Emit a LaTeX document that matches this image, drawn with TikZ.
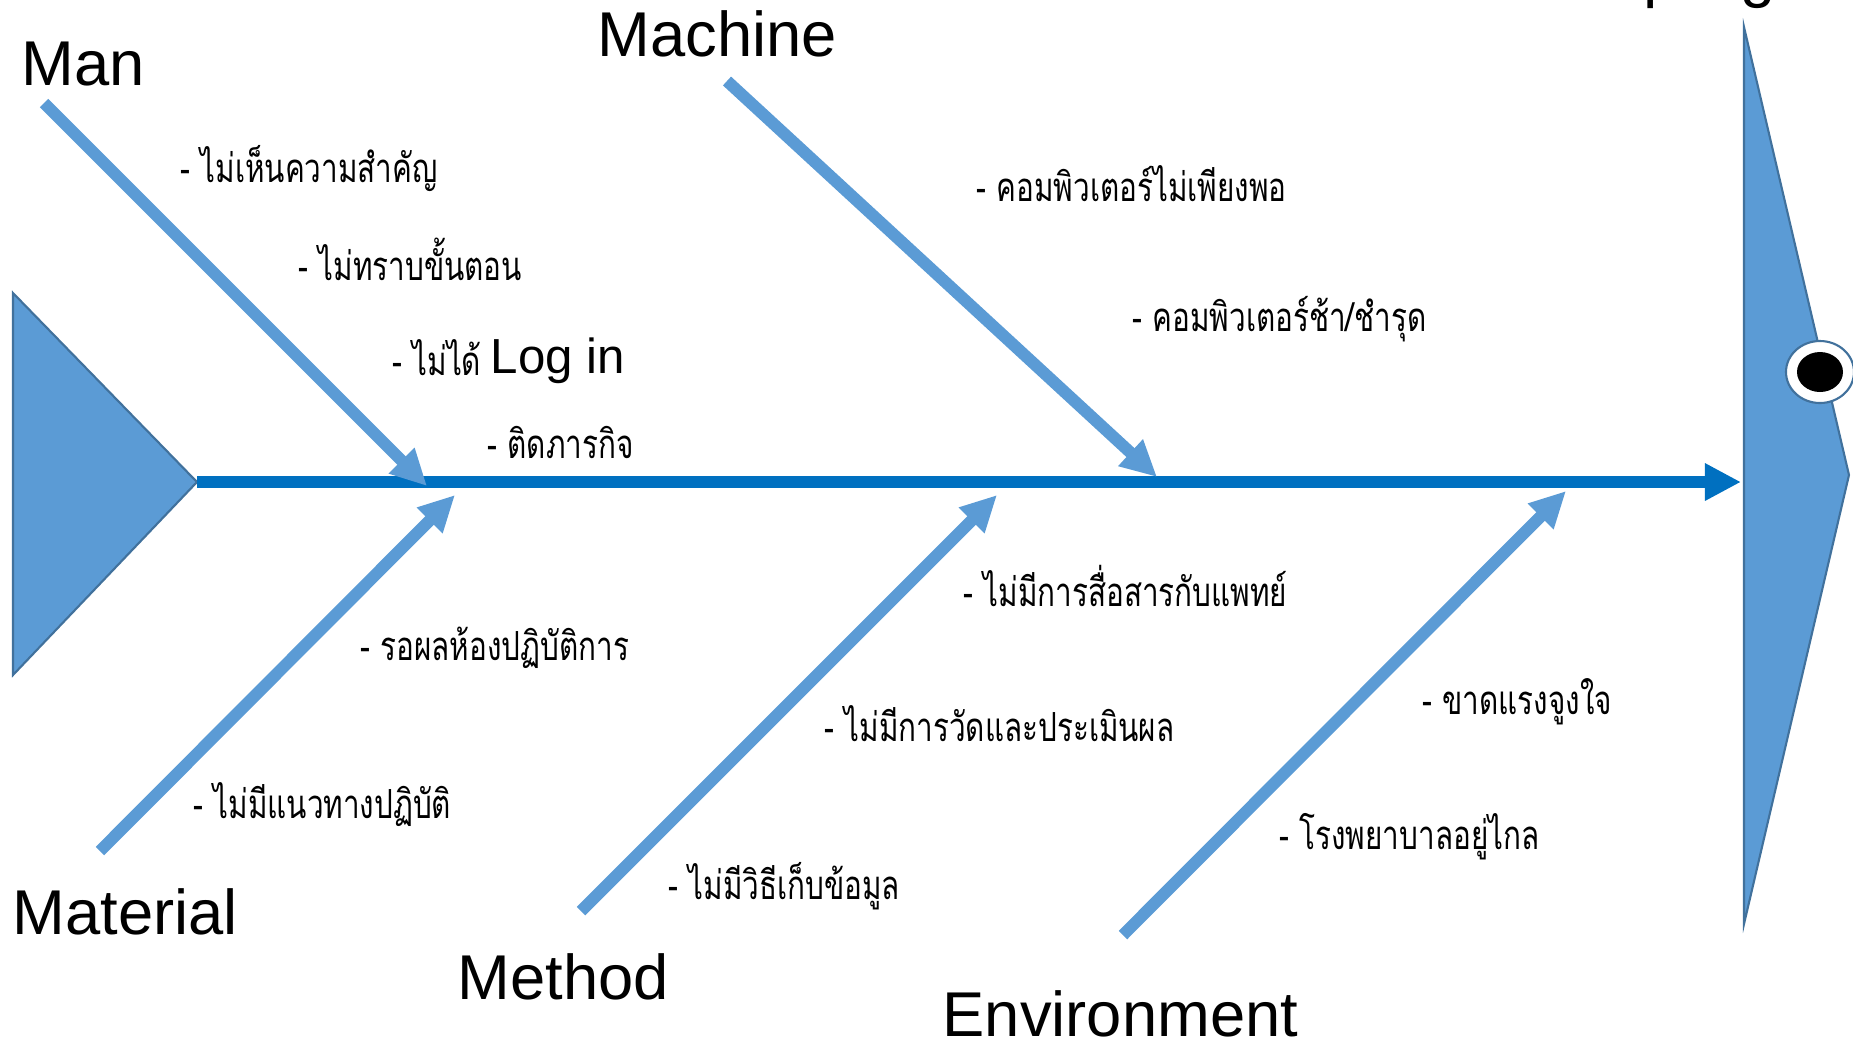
\documentclass[tikz,border=0pt]{standalone}
\usepackage{fontspec}
\setmainfont{Liberation Sans}
\newfontfamily\thaifont[Script=Thai,FakeStretch=0.74]{Loma}
\usetikzlibrary{arrows.meta}
\definecolor{bone}{HTML}{5B9BD5}
\definecolor{spinec}{HTML}{0070C0}
\definecolor{edgec}{HTML}{41719C}
\begin{document}
\begin{tikzpicture}[x=0.01cm,y=-0.01cm,
  bonearrow/.style={draw=bone, line width=3.41pt, -{Triangle[length=10.24pt,width=9.67pt]}},
  spinearrow/.style={draw=spinec, line width=3.41pt, -{Triangle[length=10.24pt,width=9.96pt]}},
  cat/.style={font=\fontsize{18}{20}\selectfont, inner sep=0pt, anchor=base west},
  login/.style={font=\fontsize{14}{16}\selectfont, inner sep=0pt, anchor=base west},
  cause/.style={font=\thaifont\fontsize{11.4}{13}\selectfont, inner sep=0pt, anchor=base west},
  shapefill/.style={fill=bone, draw=edgec, line width=0.6pt, line join=miter}
]
\useasboundingbox (0,0) rectangle (1853,1041);
% tail triangle
\coordinate (tl) at (13,293);
\coordinate (tail) at (197,482);
\coordinate (bl) at (13,675);
\path[shapefill] (tl) -- (tail) -- (bl) -- cycle;
% head
\coordinate (ht) at (1744,27);
\coordinate (hr) at (1849,475);
\coordinate (hb) at (1744,924);
\path[shapefill] (ht) -- (hr) -- (hb) -- cycle;
\coordinate (eye) at (1820,372);
\path[fill=white, draw=edgec, line width=0.6pt] (eye) ellipse [x radius=34, y radius=31];
\path[fill=black] (eye) ellipse [x radius=23, y radius=20];
% spine
\coordinate (headtip) at (1741,482);
\draw[spinearrow] (tail) -- (headtip);
% bones
\coordinate (manS) at (44,103); \coordinate (manT) at (427,486);
\coordinate (macS) at (727,81); \coordinate (macT) at (1157,477);
\coordinate (matS) at (100,851); \coordinate (matT) at (455,495);
\coordinate (metS) at (581,911); \coordinate (metT) at (997,495);
\coordinate (envS) at (1123,935); \coordinate (envT) at (1566,491);
\draw[bonearrow] (manS) -- (manT);
\draw[bonearrow] (macS) -- (macT);
\draw[bonearrow] (matS) -- (matT);
\draw[bonearrow] (metS) -- (metT);
\draw[bonearrow] (envS) -- (envT);
% category labels
\node[cat] (man) at (21,85) {Man};
\node[cat] (machine) at (597,56) {Machine};
\node[cat] (material) at (12,934) {Material};
\node[cat] (method) at (457,999) {Method};
\node[cat] (environment) at (942,1036) {Environment};
% fragments of the title above the frame
\node[cat] (tq) at (1622,-5) {q};
\node[cat] (tg) at (1740,-5) {g};
% causes
\node[cause] (c1) at (180,182) {- ไม่เห็นความสำคัญ};
\node[cause] (c2) at (298,280) {- ไม่ทราบขั้นตอน};
\node[cause] (c3) at (392,375) {- ไม่ได้};
\node[login] (c3b) at (490,373) {Log in};
\node[cause] (c4) at (487,458) {- ติดภารกิจ};
\node[cause] (c5) at (976,201) {- คอมพิวเตอร์ไม่เพียงพอ};
\node[cause] (c6) at (1132,331) {- คอมพิวเตอร์ช้า/ชำรุด};
\node[cause] (c7) at (963,606) {- ไม่มีการสื่อสารกับแพทย์};
\node[cause] (c8) at (360,660) {- รอผลห้องปฏิบัติการ};
\node[cause] (c9) at (824,741) {- ไม่มีการวัดและประเมินผล};
\node[cause] (c10) at (1422,714) {- ขาดแรงจูงใจ};
\node[cause] (c11) at (193,818) {- ไม่มีแนวทางปฏิบัติ};
\node[cause] (c12) at (1279,849) {- โรงพยาบาลอยู่ไกล};
\node[cause] (c13) at (668,899) {- ไม่มีวิธีเก็บข้อมูล};
\end{tikzpicture}
\end{document}
